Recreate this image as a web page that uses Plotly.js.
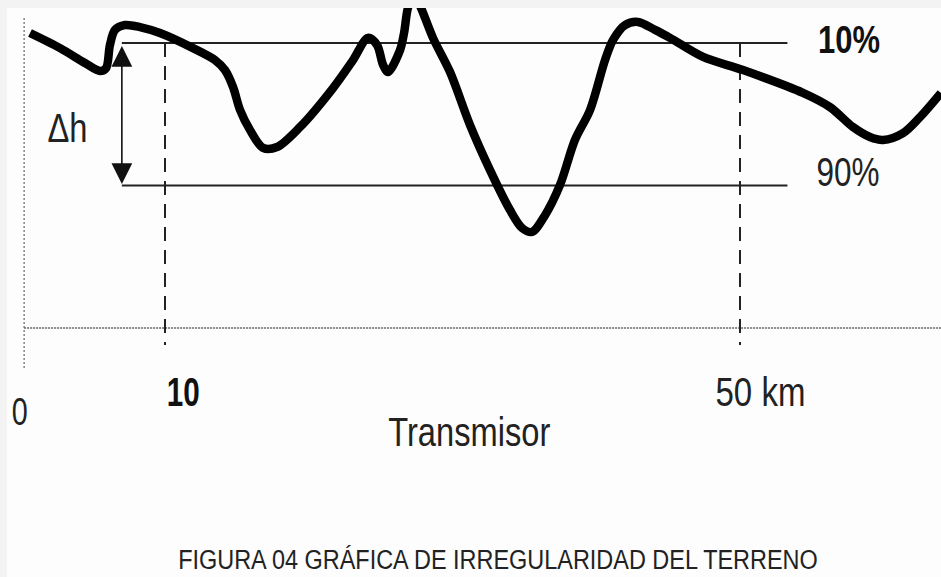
<!DOCTYPE html>
<html>
<head>
<meta charset="utf-8">
<script src="https://cdn.plot.ly/plotly-3.0.1.min.js"></script>
<style>html,body{margin:0;padding:0;background:#f3f3f3;}#chart{width:941px;height:577px;}</style>
</head>
<body>
<div id="chart"></div>
<script>
// Terrain profile: distance (km) and height (arbitrary units, baseline = 0)
const distanceKm = [0.61, 2.70, 4.43, 5.48, 5.90, 6.17, 6.52, 7.22, 8.26, 9.65, 11.95, 13.48, 14.17, 14.73, 15.22, 15.91, 16.82, 17.79, 19.39, 21.69, 23.08, 24.12, 24.75, 25.17, 25.51, 26.35, 26.63, 26.90, 27.32, 27.81, 28.64, 29.83, 31.22, 32.61, 34.00, 34.84, 35.53, 36.44, 37.48, 38.52, 39.57, 40.61, 41.17, 42.00, 42.90, 44.09, 45.13, 47.43, 50.21, 54.38, 56.26, 57.86, 59.04, 59.95, 61.34, 62.52, 63.98];
const terrainHeight = [103.5, 98.2, 93.0, 90.2, 91.2, 99.3, 104.6, 106.3, 105.6, 103.5, 98.2, 94.0, 90.5, 84.6, 76.5, 69.5, 63.2, 63.5, 70.5, 84.2, 94.0, 101.8, 99.3, 92.3, 89.8, 97.5, 103.5, 112.3, 117.2, 112.3, 101.8, 89.8, 71.2, 55.4, 41.4, 35.1, 33.7, 39.6, 50.2, 66.0, 76.5, 94.0, 101.1, 106.3, 107.4, 104.6, 101.8, 95.1, 90.5, 82.5, 77.5, 70.5, 67.0, 66.0, 68.4, 74.0, 82.5];

// Percentile levels
const levelLabels = ['10%', '90%'];
const levelHeights = [100, 50];
const levelStartKm = 7.0;
const levelEndKm = 53.3;

// Marked distances and tick labels
const markerKm = [10, 50];
const tickKm = [0, 10, 50];
const tickLabels = ['0', '10', '50 km'];
const deltaLabel = 'Δh';
const axisTitle = 'Transmisor';
const figureTitle = 'FIGURA 04 GRÁFICA DE IRREGULARIDAD DEL TERRENO';

const W = 941, H = 577, ML = 7, MT = 8;
const PW = W - ML, PH = H - MT;
const px = v => (v - ML) / PW;
const py = v => 1 - (v - MT) / PH;
const FONT = '"Liberation Sans", Arial, sans-serif';

const traces = [];
// Baseline (dotted)
traces.push({x: [0.2, 64], y: [0, 0], mode: 'lines', line: {color: '#666', width: 1.5, dash: '2px,1px'}, hoverinfo: 'skip'});
// Vertical axis (dotted)
traces.push({x: [0.2, 0.2], y: [108.8, -14.7], mode: 'lines', line: {color: '#666', width: 1.2, dash: '2px,2px'}, hoverinfo: 'skip'});
// Dashed distance markers
markerKm.forEach(k => traces.push({x: [k, k], y: [levelHeights[0], -6], mode: 'lines', line: {color: '#222', width: 2, dash: '14px,9px'}, hoverinfo: 'skip'}));
// Level lines
levelHeights.forEach(h => traces.push({x: [levelStartKm, levelEndKm], y: [h, h], mode: 'lines', line: {color: '#222', width: 2}, hoverinfo: 'skip'}));
// Terrain
traces.push({x: distanceKm, y: terrainHeight, mode: 'lines', line: {color: '#000', width: 8.5, shape: 'spline', smoothing: 0.9}, hoverinfo: 'skip'});

// text annotations: [text, centerX(px), centerY(px), size, bold, targetWidth(px)]
const textSpecs = [
  [deltaLabel, 67, 128, 40, false, 40],
  [levelLabels[0], 849, 39, 39, true, 62],
  [levelLabels[1], 848, 172, 40, false, 63],
  [tickLabels[0], 20, 411, 39, false, 16],
  [tickLabels[1], 183, 392, 40, true, 33],
  [tickLabels[2], 760, 392, 40, false, 90],
  [axisTitle, 469, 432, 40, false, 162],
  [figureTitle, 498, 559, 28, false, 640]
];

const annotations = [
  {x: levelStartKm, y: levelHeights[1] + 0.5, ax: levelStartKm, ay: levelHeights[0] - 0.5, xref: 'x', yref: 'y', axref: 'x', ayref: 'y',
   showarrow: true, arrowhead: 2, arrowside: 'end+start', arrowsize: 2.6, arrowwidth: 1.6, arrowcolor: '#111', text: ''}
];
textSpecs.forEach(s => annotations.push({
  x: px(s[1]), y: py(s[2]), xref: 'paper', yref: 'paper', xanchor: 'center', yanchor: 'middle', borderpad: 0,
  text: s[4] ? '<b>' + s[0] + '</b>' : s[0], showarrow: false,
  font: {family: FONT, size: s[3], color: s[4] ? '#111' : '#222'}
}));

const layout = {
  width: W, height: H,
  margin: {l: ML, r: 0, t: MT, b: 0},
  paper_bgcolor: '#f3f3f3', plot_bgcolor: '#fdfdfd',
  showlegend: false,
  xaxis: {range: [(ML - 21.25) / 14.375, 63.983], visible: false, fixedrange: true},
  yaxis: {range: [-87.37, 112.28], visible: false, fixedrange: true},
  annotations: annotations
};

Plotly.newPlot('chart', traces, layout, {staticPlot: true, displayModeBar: false}).then(gd => {
  // condense the label text horizontally (narrow typeface look), keeping it centred
  gd.querySelectorAll('g.annotation').forEach(g => {
    const idx = +g.getAttribute('data-index');
    if (idx < 1) return;
    const spec = textSpecs[idx - 1];
    const t = g.querySelector('text.annotation-text');
    if (!t || !spec) return;
    const bb = t.getBBox();
    if (!bb.width) return;
    const s = spec[5] / bb.width;
    const cx = bb.x + bb.width / 2;
    t.setAttribute('transform', `translate(${cx},0) scale(${s},1) translate(${-cx},0)`);
  });
});
</script>
</body>
</html>
